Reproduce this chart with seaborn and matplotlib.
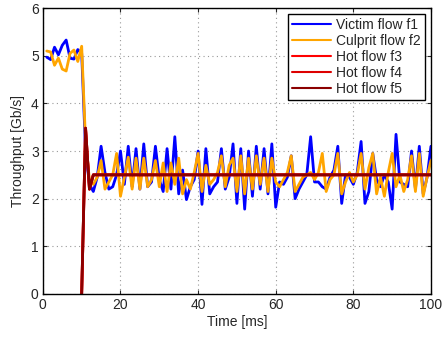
import matplotlib
matplotlib.use("Agg")
import matplotlib.pyplot as plt
import numpy as np
import pandas as pd
import seaborn as sns

# time axis [ms]
time_ms = list(range(1, 101))

victim_f1 = [4.97, 4.92, 5.18, 5.02, 5.22, 5.33, 4.95, 4.93, 5.13, 5.05,
             3.00, 2.30, 2.15, 2.45, 3.10, 2.55, 2.20, 2.25, 2.50, 3.00,
             2.30, 3.10, 2.25, 3.05, 2.20, 3.15, 2.25, 2.35, 3.10, 2.40,
             2.15, 3.05, 2.20, 3.30, 2.10, 2.60, 1.98, 2.25, 2.40, 3.00,
             1.88, 3.05, 2.10, 2.25, 2.35, 3.05, 2.20, 2.45, 3.15, 1.90,
             3.05, 1.78, 3.00, 2.05, 3.10, 2.20, 3.05, 2.10, 3.15, 1.82,
             2.35, 2.30, 2.45, 2.90, 2.00, 2.20, 2.35, 2.50, 3.30, 2.35,
             2.35, 2.25, 2.20, 2.45, 2.60, 3.10, 1.90, 2.50, 2.45, 2.30,
             2.55, 3.20, 1.90, 2.15, 2.95, 2.40, 2.25, 2.50, 2.35, 1.78,
             3.35, 2.35, 2.30, 2.25, 3.00, 2.20, 3.10, 2.10, 2.45, 3.10]

culprit_f2 = [5.10, 5.08, 4.80, 4.95, 4.72, 4.68, 5.05, 5.12, 4.88, 5.20,
              3.20, 2.40, 2.30, 2.45, 2.80, 2.20, 2.35, 2.50, 2.95, 2.05,
              2.45, 2.87, 2.20, 2.85, 2.20, 2.85, 2.25, 2.40, 2.80, 2.25,
              2.75, 2.15, 2.75, 2.30, 2.85, 2.10, 2.40, 2.20, 2.55, 2.95,
              2.15, 2.70, 2.30, 2.40, 2.55, 2.90, 2.25, 2.70, 2.85, 2.15,
              2.90, 2.10, 2.85, 2.20, 2.90, 2.30, 2.85, 2.15, 2.85, 2.35,
              2.25, 2.40, 2.55, 2.90, 2.15, 2.30, 2.45, 2.50, 2.55, 2.40,
              2.55, 2.95, 2.15, 2.40, 2.50, 2.95, 2.10, 2.35, 2.55, 2.35,
              2.50, 2.95, 2.20, 2.65, 2.95, 2.10, 2.45, 2.05, 2.55, 2.95,
              2.25, 2.50, 2.15, 2.40, 2.90, 2.15, 2.95, 2.05, 2.45, 2.80]

# hot flows start at 10 ms
hot_time = list(range(10, 101))
hot_f3 = [0.0, 3.48, 2.20] + [2.50] * 88
hot_f4 = [0.0, 3.48, 2.20] + [2.50] * 88
hot_f5 = [0.0, 3.48, 2.20] + [2.50] * 88

sns.set_style("ticks")
plt.rcParams['font.family'] = ['Liberation Sans', 'DejaVu Sans']

fig = plt.figure(figsize=(4.42, 3.39), dpi=100)
ax = fig.add_axes([0.097, 0.133, 0.878, 0.843])

series = [
    (time_ms, victim_f1, "Victim flow f1", "#0000ff"),
    (time_ms, culprit_f2, "Culprit flow f2", "#ffa500"),
    (hot_time, hot_f3, "Hot flow f3", "#ff0000"),
    (hot_time, hot_f4, "Hot flow f4", "#dd0000"),
    (hot_time, hot_f5, "Hot flow f5", "#8b0000"),
]
for x, y, name, col in series:
    sns.lineplot(x=x, y=y, ax=ax, color=col, label=name, linewidth=2.0)

ax.set_xlim(0, 100)
ax.set_ylim(0, 6)
ax.set_xticks([0, 20, 40, 60, 80, 100])
ax.set_yticks([0, 1, 2, 3, 4, 5, 6])
ax.grid(True, linestyle=(0, (1, 3)), color="#999999", linewidth=0.8)
ax.tick_params(direction="in", top=True, right=True, labelsize=10, length=3,
               width=0.8, pad=3)
for s in ax.spines.values():
    s.set_linewidth(1.0)
    s.set_color("black")

ax.set_xlabel("Time [ms]", fontsize=10, labelpad=2)
ax.set_ylabel("Throughput [Gb/s]", fontsize=10, labelpad=4)

leg = ax.legend(loc="upper right", fontsize=10, frameon=True, fancybox=False,
                edgecolor="black", framealpha=1, borderpad=0.3,
                handlelength=2.8, labelspacing=0.15, handletextpad=0.4,
                borderaxespad=0.4)
leg.get_frame().set_linewidth(1.0)
for line in leg.get_lines():
    line.set_linewidth(1.5)

fig.savefig("out.png", dpi=100)
